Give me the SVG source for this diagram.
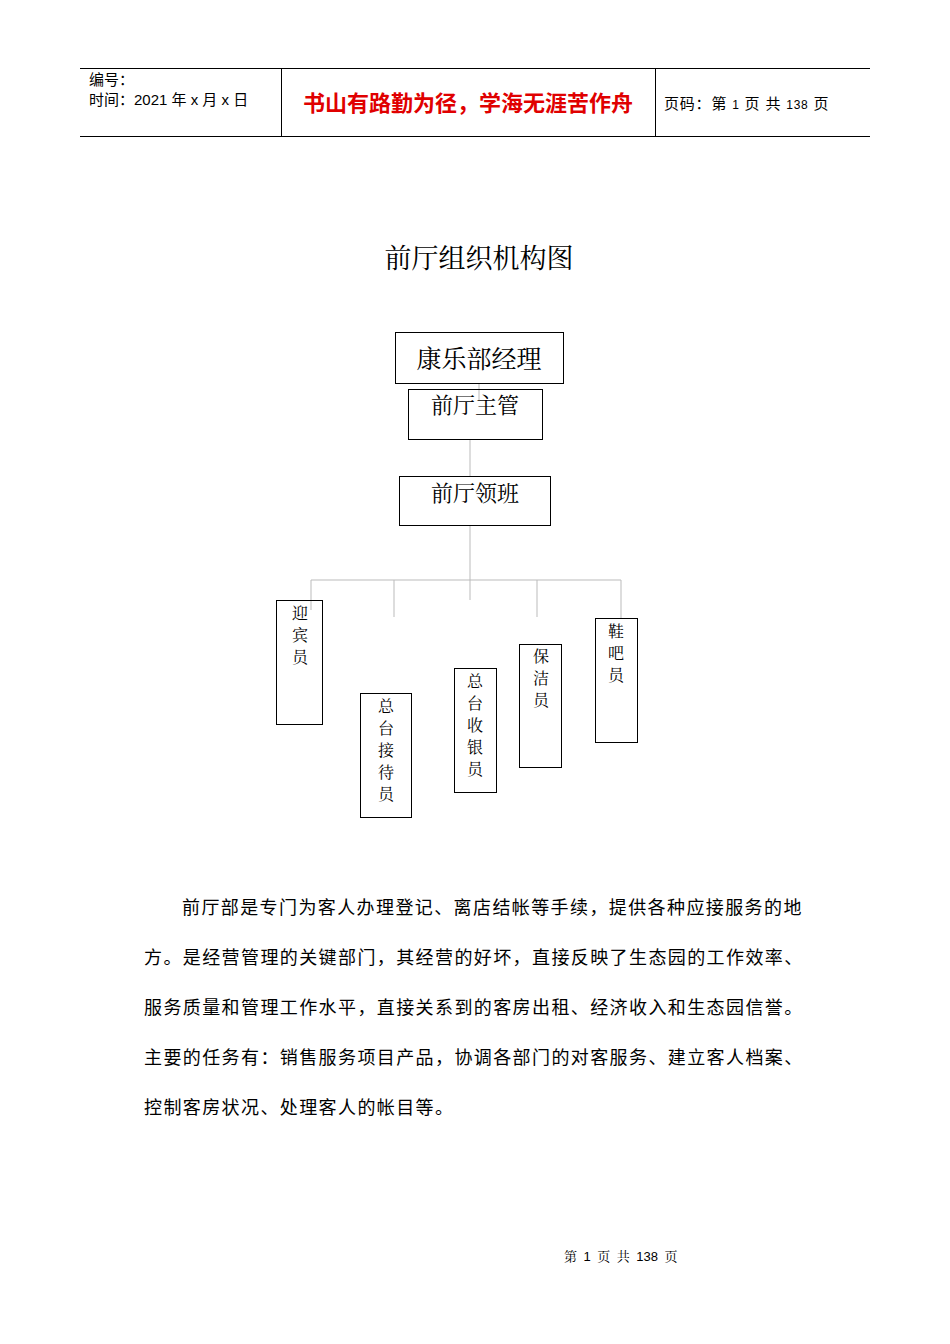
<svg xmlns="http://www.w3.org/2000/svg" width="950" height="1344" viewBox="0 0 950 1344">
<style>
.b{fill:#fff;stroke:#000;stroke-width:1}
.c{stroke:#bbb;stroke-width:1;fill:none}
.s{font-family:"Liberation Serif","Noto Serif CJK SC","Noto Sans CJK SC",serif;fill:#000}
.h{font-family:"Liberation Sans","Noto Sans CJK SC",sans-serif;fill:#000}
.v{font-size:16px;text-anchor:middle}
</style>
<rect width="950" height="1344" fill="#fff"/>
<g id="header">
<line x1="80" y1="68.5" x2="870" y2="68.5" stroke="#000"/>
<line x1="80" y1="136.5" x2="870" y2="136.5" stroke="#000"/>
<line x1="281.5" y1="68" x2="281.5" y2="136" stroke="#000"/>
<line x1="655.5" y1="68" x2="655.5" y2="136" stroke="#000"/>
<text class="h" x="89" y="85" font-size="15">编号：</text>
<text class="h" x="89" y="105" font-size="15">时间：2021 年 x 月 x 日</text>
<text class="h" x="468" y="111" font-size="22" font-weight="bold" style="fill:#e00000" text-anchor="middle">书山有路勤为径，学海无涯苦作舟</text>
<text class="h" x="664" y="109" font-size="15" letter-spacing="0.8">页码：第 <tspan font-size="12">1</tspan> 页  共 <tspan font-size="12">138</tspan> 页</text>
</g>
<text class="s" x="479" y="268" font-size="27" text-anchor="middle">前厅组织机构图</text>
<g id="connectors">
<line class="c" x1="479" y1="383" x2="479" y2="400"/>
<line class="c" x1="470" y1="439" x2="470" y2="476"/>
<line class="c" x1="470" y1="525" x2="470" y2="600"/>
<line class="c" x1="311" y1="580" x2="621" y2="580"/>
<line class="c" x1="311" y1="580" x2="311" y2="610"/>
<line class="c" x1="394" y1="580" x2="394" y2="617"/>
<line class="c" x1="537" y1="580" x2="537" y2="617"/>
<line class="c" x1="621" y1="580" x2="621" y2="618"/>
</g>
<g id="n-manager"><rect class="b" x="395.5" y="332.5" width="168" height="51"/><text class="s" x="479" y="368" font-size="25" text-anchor="middle">康乐部经理</text></g>
<g id="n-supervisor"><rect class="b" x="408.5" y="389.5" width="134" height="50"/><line class="c" x1="479" y1="390" x2="479" y2="400"/><text class="s" x="475" y="413" font-size="22" text-anchor="middle">前厅主管</text></g>
<g id="n-lead"><rect class="b" x="399.5" y="476.5" width="151" height="49"/><text class="s" x="475" y="501" font-size="22" text-anchor="middle">前厅领班</text></g>
<g id="n-greeter"><rect class="b" x="276.5" y="600.5" width="46" height="124"/><line class="c" x1="311" y1="601" x2="311" y2="610"/><text class="s v" x="300" y="619">迎</text><text class="s v" x="300" y="641">宾</text><text class="s v" x="300" y="663">员</text></g>
<g id="n-reception"><rect class="b" x="360.5" y="693.5" width="51" height="124"/><text class="s v" x="386" y="712">总</text><text class="s v" x="386" y="734">台</text><text class="s v" x="386" y="756">接</text><text class="s v" x="386" y="778">待</text><text class="s v" x="386" y="800">员</text></g>
<g id="n-cashier"><rect class="b" x="454.5" y="668.5" width="42" height="124"/><text class="s v" x="475" y="687">总</text><text class="s v" x="475" y="709">台</text><text class="s v" x="475" y="731">收</text><text class="s v" x="475" y="753">银</text><text class="s v" x="475" y="775">员</text></g>
<g id="n-cleaner"><rect class="b" x="519.5" y="644.5" width="42" height="123"/><text class="s v" x="541" y="662">保</text><text class="s v" x="541" y="684">洁</text><text class="s v" x="541" y="706">员</text></g>
<g id="n-shoe"><rect class="b" x="595.5" y="618.5" width="42" height="124"/><text class="s v" x="616" y="637">鞋</text><text class="s v" x="616" y="659">吧</text><text class="s v" x="616" y="681">员</text></g>
<g id="body" class="h" font-size="18" letter-spacing="1.4">
<text x="182" y="914">前厅部是专门为客人办理登记、离店结帐等手续，提供各种应接服务的地</text>
<text x="144" y="964">方。是经营管理的关键部门，其经营的好坏，直接反映了生态园的工作效率、</text>
<text x="144" y="1014">服务质量和管理工作水平，直接关系到的客房出租、经济收入和生态园信誉。</text>
<text x="144" y="1064">主要的任务有：销售服务项目产品，协调各部门的对客服务、建立客人档案、</text>
<text x="144" y="1114">控制客房状况、处理客人的帐目等。</text>
</g>
<text class="s" x="564" y="1261" font-size="13" xml:space="preserve">第  <tspan font-family="Liberation Sans">1</tspan>  页  共  <tspan font-family="Liberation Sans">138</tspan>  页</text>
</svg>
